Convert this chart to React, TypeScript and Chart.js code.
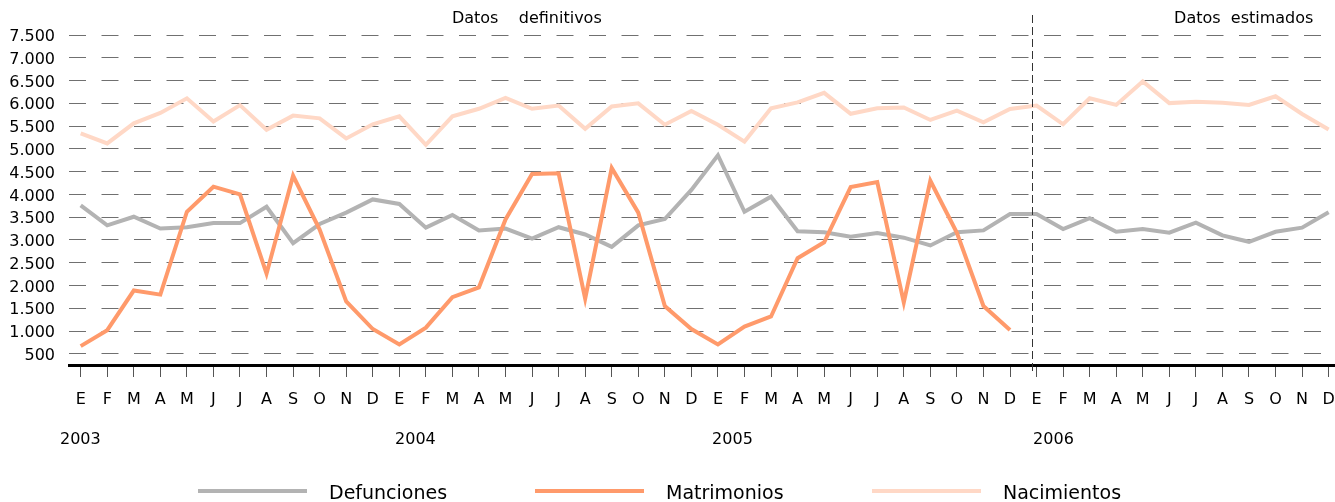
import React, { useEffect, useRef } from "react";
import { Chart, registerables } from "chart.js";

Chart.register(...registerables);

const monthNames = ["E", "F", "M", "A", "M", "J", "J", "A", "S", "O", "N", "D"];
const years = ["2003", "2004", "2005", "2006"];
const monthLabels: string[] = years.flatMap(() => monthNames);
const monthIndex: number[] = monthLabels.map((_, i) => i);

const yTickValues = [500, 1000, 1500, 2000, 2500, 3000, 3500, 4000, 4500, 5000, 5500, 6000, 6500, 7000, 7500];

const defunciones = [
  3760, 3320, 3510, 3250, 3280, 3370, 3370, 3730, 2930, 3350, 3600, 3890,
  3790, 3270, 3550, 3210, 3250, 3030, 3280, 3120, 2850, 3320, 3460, 4100,
  4860, 3620, 3950, 3190, 3170, 3070, 3150, 3050, 2880, 3170, 3210, 3570,
  3570, 3240, 3480, 3180, 3240, 3160, 3380, 3100, 2960, 3180, 3270, 3610,
];

const matrimonios = [
  670, 1020, 1890, 1800, 3620, 4170, 4000, 2260, 4410, 3230, 1650, 1045,
  707, 1075, 1745, 1960, 3450, 4450, 4465, 1710, 4580, 3600, 1550, 1045,
  707, 1097, 1320, 2600, 2950, 4160, 4270, 1630, 4300, 3155, 1550, 1025,
];

const nacimientos = [
  5340, 5120, 5560, 5790, 6110, 5600, 5960, 5420, 5730, 5670, 5230, 5540,
  5715, 5090, 5715, 5880, 6120, 5880, 5950, 5440, 5930, 6000, 5530, 5830,
  5530, 5160, 5890, 6020, 6230, 5770, 5890, 5910, 5635, 5840, 5585, 5875,
  5950, 5540, 6110, 5965, 6480, 6005, 6035, 6010, 5965, 6155, 5765, 5425,
];

const seriesNames = ["Defunciones", "Matrimonios", "Nacimientos"];
const seriesColors = ["#b3b3b3", "#ff9a6b", "#ffd8c6"];

// annotation positions in month-index units
const yearLabelPos = [-0.78, 11.84, 23.78, 35.87];
const headerTexts = ["Datos    definitivos", "Datos  estimados"];
const headerPos = [13.98, 41.18];
const separatorPos = 35.81;

const FONT = "'DejaVu Sans', sans-serif";
const TEXT = "#000";

const fmt = (v: number) =>
  v >= 1000 ? `${Math.floor(v / 1000)}.${String(v % 1000).padStart(3, "0")}` : String(v);

const toPoints = (arr: number[]) => arr.map((y, i) => ({ x: monthIndex[i], y }));

const annotationPlugin = {
  id: "annotations",
  afterDraw(chart: any) {
    const ctx = chart.ctx;
    const xs = chart.scales.x;
    const area = chart.chartArea;
    ctx.save();
    // separator
    const sx = Math.round(xs.getPixelForValue(separatorPos)) + 0.5;
    ctx.strokeStyle = "#333";
    ctx.lineWidth = 1;
    ctx.setLineDash([8, 4]);
    ctx.beginPath();
    ctx.moveTo(sx, area.top - 20);
    ctx.lineTo(sx, area.bottom + 10);
    ctx.stroke();
    ctx.setLineDash([]);
    // headers
    ctx.fillStyle = TEXT;
    ctx.font = `16px ${FONT}`;
    ctx.textBaseline = "middle";
    ctx.textAlign = "left";
    headerTexts.forEach((t, i) => {
      ctx.fillText(t, xs.getPixelForValue(headerPos[i]), area.top - 16);
    });
    // years
    years.forEach((t, i) => {
      ctx.fillText(t, xs.getPixelForValue(yearLabelPos[i]), area.bottom + 75);
    });
    // legend
    const legendX = 198;
    const legendStep = 337;
    const lineLen = 109;
    const textOff = 131;
    chart.data.datasets.forEach((ds: any, i: number) => {
      const x0 = legendX + i * legendStep;
      ctx.strokeStyle = ds.borderColor;
      ctx.lineWidth = 4;
      ctx.beginPath();
      ctx.moveTo(x0, 491);
      ctx.lineTo(x0 + lineLen, 491);
      ctx.stroke();
      ctx.fillStyle = TEXT;
      ctx.font = `19px ${FONT}`;
      ctx.fillText(ds.label, x0 + textOff, 494);
    });
    ctx.restore();
  },
};

export default function App() {
  const ref = useRef<HTMLCanvasElement | null>(null);
  useEffect(() => {
    document.body.style.margin = "0";
    if (!ref.current) return;
    const data = [defunciones, matrimonios, nacimientos];
    const orders = [1, 0, 2];
    const chart = new Chart(ref.current, {
      type: "line",
      data: {
        datasets: data.map((arr, i) => ({
          label: seriesNames[i],
          data: toPoints(arr),
          borderColor: seriesColors[i],
          backgroundColor: seriesColors[i],
          borderWidth: 4,
          pointRadius: 0,
          tension: 0,
          fill: false,
          order: orders[i],
        })),
      },
      options: {
        animation: false,
        responsive: false,
        devicePixelRatio: 1,
        layout: { padding: { top: 35, left: 0, right: 0, bottom: 0 } },
        plugins: {
          legend: { display: false },
          tooltip: { enabled: false },
        },
        scales: {
          x: {
            type: "linear",
            min: -0.44,
            max: 47.24,
            afterBuildTicks: (s: any) => {
              s.ticks = monthIndex.map((v) => ({ value: v }));
            },
            afterFit: (s: any) => {
              s.height = 137;
              s.paddingLeft = 0;
              s.paddingRight = 0;
            },
            ticks: {
              autoSkip: false,
              maxRotation: 0,
              padding: 13,
              color: TEXT,
              font: { family: FONT, size: 16 },
              callback: (v: any) => monthLabels[Math.round(Number(v))] ?? "",
            },
            grid: {
              drawOnChartArea: false,
              drawTicks: true,
              tickLength: 12,
              tickColor: "#555",
              tickWidth: 1,
            },
            border: { display: true, color: "#000", width: 3 },
          },
          y: {
            min: 255,
            max: 7500,
            afterBuildTicks: (s: any) => {
              s.ticks = yTickValues.map((v) => ({ value: v }));
            },
            afterFit: (s: any) => {
              s.width = 69;
              s.paddingTop = 0;
              s.paddingBottom = 0;
            },
            ticks: {
              padding: 14,
              labelOffset: 2,
              color: TEXT,
              font: { family: FONT, size: 16 },
              callback: (v: any) => fmt(Number(v)),
            },
            grid: {
              drawTicks: false,
              color: "#707070",
              lineWidth: 1,
            },
            border: { display: false, dash: [17, 15.5] },
          },
        },
      },
      plugins: [annotationPlugin],
    });
    return () => chart.destroy();
  }, []);
  return <canvas ref={ref} width={1335} height={502} style={{ display: "block" }} />;
}
